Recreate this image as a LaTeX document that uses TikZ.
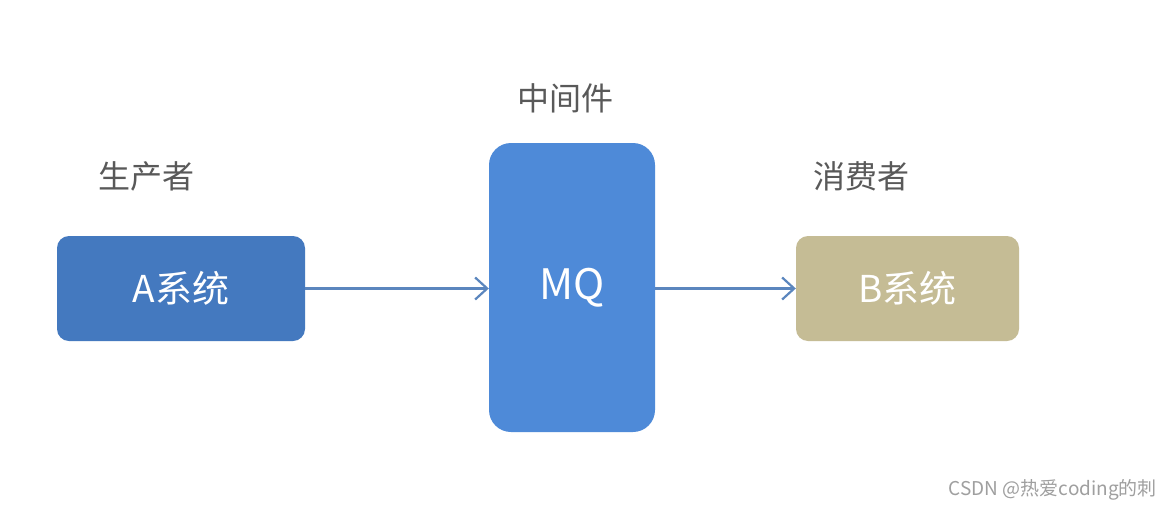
\documentclass[tikz,border=0pt]{standalone}
\usepackage{fontspec}
\setmainfont{Noto Sans CJK SC}
\usetikzlibrary{arrows.meta}
\definecolor{boxA}{HTML}{4479BF}
\definecolor{boxMQ}{HTML}{4E8AD8}
\definecolor{boxB}{HTML}{C5BC95}
\definecolor{lbl}{HTML}{595959}
\definecolor{arr}{HTML}{5B86BE}
\begin{document}
\begin{tikzpicture}[x=1pt,y=-1pt,
  sysbox/.style={draw=none,rounded corners=12pt,text=white,font=\fontsize{37}{40}\selectfont,inner sep=0pt},
  lab/.style={text=lbl,font=\fontsize{32}{35}\selectfont,inner sep=0pt},
  conn/.style={draw=arr,line width=2.2pt,-{Straight Barb[length=12pt,width=22pt,line width=2.2pt]}}]
\useasboundingbox[fill=white] (0,0) rectangle (1171,509);
\node[sysbox,fill=boxA,minimum width=248pt,minimum height=105pt] (A) at (181,288.5) {A系统};
\node[sysbox,fill=boxMQ,rounded corners=22pt,minimum width=166pt,minimum height=289pt,font=\fontsize{42}{45}\selectfont] (MQ) at (572,287.5) {MQ};
\node[sysbox,fill=boxB,minimum width=223pt,minimum height=105pt] (B) at (907.5,288.5) {B系统};
\node[lab] (lA) at (146,176) {生产者};
\node[lab] (lMQ) at (565,98) {中间件};
\node[lab] (lB) at (861,176) {消费者};
\node[text=gray!75,font=\fontsize{19}{21}\selectfont,anchor=east,inner sep=0pt] (wm) at (1157,490) {CSDN @热爱coding的刺};
\draw[conn] (A.east) -- (A.east -| MQ.west);
\draw[conn] (MQ.east |- B.west) -- (B.west);
\end{tikzpicture}
\end{document}
